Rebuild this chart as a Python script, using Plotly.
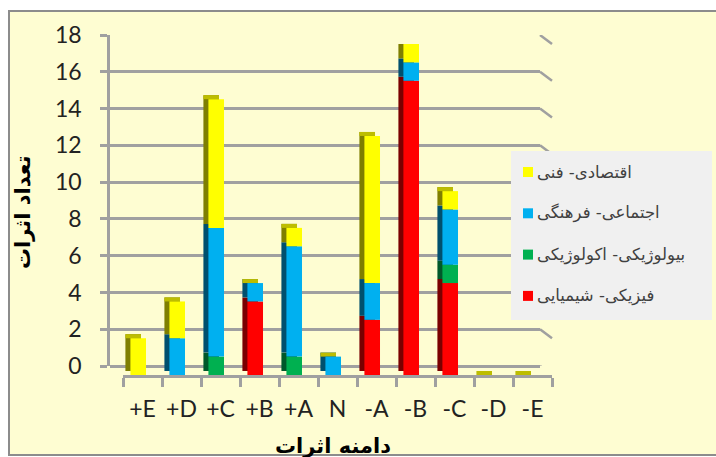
import plotly.graph_objects as go

# ---- data -------------------------------------------------------------
categories = ["+E", "+D", "+C", "+B", "+A", "N", "-A", "-B", "-C", "-D", "-E"]

physical_chemical = [0, 0, 0, 4, 0, 0, 3, 16, 5, 0, 0]
biological_ecological = [0, 0, 1, 0, 1, 0, 0, 0, 1, 0, 0]
social_cultural = [0, 2, 7, 1, 6, 1, 2, 1, 3, 0, 0]
economic_technical = [2, 2, 7, 0, 1, 0, 8, 1, 1, 0, 0]

series_names = [
    "فیزیکی- شیمیایی",
    "بیولوژیکی- اکولوژیکی",
    "اجتماعی- فرهنگی",
    "اقتصادی- فنی",
]
series_values = [physical_chemical, biological_ecological, social_cultural, economic_technical]

y_ticks = [0, 2, 4, 6, 8, 10, 12, 14, 16, 18]

# ---- style ------------------------------------------------------------
front_colors = ["#FF0000", "#00B050", "#00B0F0", "#FFFF00"]
side_colors = ["#7A0000", "#00582A", "#00506E", "#7F7F00"]
cap_color = "#BDBD00"
grid_color = "#A0A0A0"
bg_color = "#FEFDD2"
legend_bg = "#F0F0F0"
legend_font = dict(family="DejaVu Sans, sans-serif", size=16.5, color="#404040")

W, H = 716, 457


def px(x):
    return x / W


def py(y):
    return 1 - y / H


# back wall (gridlines) and front plane (bars), in pixels
BACK_L, BACK_R = 110, 540
FRONT_L, FRONT_R = 123, 552
BACK_ZERO, BACK_TOP = 366, 35
DEPTH = 9            # vertical drop of the front plane
Y_MAX = 18
unit_px = (BACK_ZERO - BACK_TOP) / Y_MAX

BAR_W = 0.40
BAR_OFF = -0.31
SIDE_DX = 5 / ((FRONT_R - FRONT_L) / len(categories))
SIDE_DY = 4 / unit_px

# legend box (pixels)
LEG_L, LEG_R, LEG_T, LEG_B = 511, 712, 151, 320
LEG_FIRST, LEG_STEP = 172, 41.3
SWATCH = 10
SWATCH_X = 523

fig = go.Figure()

# stacked bases
bases = []
run = [0] * len(categories)
for vals in series_values:
    bases.append(list(run))
    run = [a + b for a, b in zip(run, vals)]
totals = run

# side faces (shifted up-left, darker)
for vals, base, col in zip(series_values, bases, side_colors):
    fig.add_trace(go.Bar(
        x=categories, y=vals, base=[b + SIDE_DY for b in base],
        width=BAR_W, offset=BAR_OFF - SIDE_DX,
        marker=dict(color=col, line=dict(width=0)),
        xaxis="x2", yaxis="y2", showlegend=False, hoverinfo="skip",
    ))

# top faces
fig.add_trace(go.Bar(
    x=categories, y=[SIDE_DY] * len(categories), base=totals,
    width=BAR_W, offset=BAR_OFF - SIDE_DX,
    marker=dict(color=cap_color, line=dict(width=0)),
    xaxis="x2", yaxis="y2", showlegend=False, hoverinfo="skip",
))

# front faces
for name, vals, base, col in zip(series_names, series_values, bases, front_colors):
    fig.add_trace(go.Bar(
        x=categories, y=vals, base=base, name=name,
        width=BAR_W, offset=BAR_OFF,
        marker=dict(color=col, line=dict(width=0)),
        xaxis="x2", yaxis="y2", showlegend=False,
    ))

tick_font = dict(family="Lato, Carlito, sans-serif", size=23, color="#222222")

# chart area frame, wall edges (right-side depth lines for every gridline,
# plus the floor's left edge)
shapes = [
    dict(type="rect", xref="paper", yref="paper",
         x0=px(9), x1=1.02, y0=py(455), y1=py(11),
         line=dict(color="#8C8C8C", width=2), fillcolor=bg_color, layer="below"),
]
for v in y_ticks:
    shapes.append(dict(type="line", xref="paper", yref="y",
                       x0=px(BACK_R), x1=px(FRONT_R), y0=v, y1=v - DEPTH / unit_px,
                       line=dict(color=grid_color, width=2.5), layer="below"))
shapes.append(dict(type="line", xref="paper", yref="y",
                   x0=px(BACK_L), x1=px(FRONT_L), y0=0, y1=-DEPTH / unit_px,
                   line=dict(color=grid_color, width=2.5), layer="below"))

# legend: top of the stack listed first, swatch on the left of each label
annotations = []
shapes.append(dict(type="rect", xref="paper", yref="paper",
                   x0=px(LEG_L), x1=px(LEG_R), y0=py(LEG_B), y1=py(LEG_T),
                   line=dict(width=0), fillcolor=legend_bg))
for row, idx in enumerate(reversed(range(len(series_names)))):
    cy = LEG_FIRST + row * LEG_STEP
    shapes.append(dict(type="rect", xref="paper", yref="paper",
                       x0=px(SWATCH_X), x1=px(SWATCH_X + SWATCH),
                       y0=py(cy + SWATCH / 2), y1=py(cy - SWATCH / 2),
                       line=dict(width=0), fillcolor=front_colors[idx]))
    annotations.append(dict(text=series_names[idx], xref="paper", yref="paper",
                            x=px(SWATCH_X + SWATCH + 3), y=py(cy),
                            xanchor="left", yanchor="middle", align="center",
                            showarrow=False, borderpad=0, font=legend_font))

annotations += [
    dict(text="<b>تعداد اثرات</b>", xref="paper", yref="paper",
         x=px(23), y=py(212), xanchor="center", yanchor="middle",
         textangle=-90, showarrow=False,
         font=dict(family="DejaVu Sans, sans-serif", size=21, color="black")),
    dict(text="<b>دامنه اثرات</b>", xref="paper", yref="paper",
         x=px(333), y=py(446), xanchor="center", yanchor="middle",
         showarrow=False,
         font=dict(family="DejaVu Sans, sans-serif", size=21, color="black")),
]

fig.update_layout(
    width=W, height=H,
    margin=dict(l=0, r=0, t=0, b=0, autoexpand=False),
    paper_bgcolor="white",
    plot_bgcolor="rgba(0,0,0,0)",
    barmode="overlay",
    showlegend=False,
    xaxis=dict(domain=[px(BACK_L), px(BACK_R)], anchor="y", range=[0, 1],
               automargin=False,
               showgrid=False, zeroline=False, showline=False,
               showticklabels=False, ticks=""),
    yaxis=dict(domain=[py(BACK_ZERO), py(BACK_TOP)], anchor="x", range=[0, Y_MAX],
               automargin=False,
               tickvals=y_ticks, showgrid=True, gridcolor=grid_color, gridwidth=2.5,
               zeroline=True, zerolinecolor=grid_color, zerolinewidth=2.5,
               showline=True, linecolor=grid_color, linewidth=2.5,
               ticks="outside", ticklen=7, tickwidth=2.5, tickcolor=grid_color,
               ticklabelstandoff=14, tickfont=tick_font),
    xaxis2=dict(domain=[px(FRONT_L), px(FRONT_R)], anchor="y2",
                automargin=False, tickangle=0,
                categoryorder="array", categoryarray=categories,
                range=[-0.5, len(categories) - 0.5],
                showgrid=False, zeroline=False,
                showline=True, linecolor=grid_color, linewidth=2.5,
                ticks="outside", tickson="boundaries", ticklen=9, tickwidth=2.5,
                tickcolor=grid_color, ticklabelstandoff=12, tickfont=tick_font),
    yaxis2=dict(domain=[py(BACK_ZERO + DEPTH), py(BACK_TOP + DEPTH)], anchor="x2",
                automargin=False, range=[0, Y_MAX], visible=False),
    shapes=shapes,
    annotations=annotations,
)

fig.write_html("out.html")
